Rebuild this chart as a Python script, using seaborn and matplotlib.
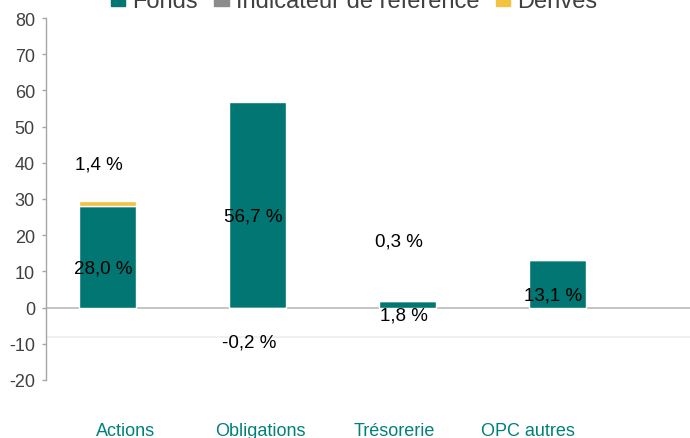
import matplotlib
matplotlib.use('Agg')
import matplotlib.pyplot as plt
from matplotlib.patches import Patch
import seaborn as sns
import pandas as pd

# données
categories = ['Actions', 'Obligations', 'Trésorerie', 'OPC autres']
fonds = [28.0, 56.7, 1.8, 13.1]
derives = [1.4, -0.2, 0.3, 0.0]
derives_affiches = [True, True, True, False]

TEAL = '#017672'
JAUNE = '#F2C241'
GRIS = '#8C8C8C'

sns.set_theme(style='white')
plt.rcParams['font.family'] = ['Liberation Sans', 'DejaVu Sans']
plt.rcParams['axes.unicode_minus'] = False

fig = plt.figure(figsize=(6.9, 4.39), dpi=100)
ax = fig.add_axes([46 / 690, 1 - 381 / 439, 1 - 46 / 690, (381 - 19) / 439])

df = pd.DataFrame({'cat': categories, 'fonds': fonds, 'derives': derives})
sns.barplot(data=df, x='cat', y='fonds', color=TEAL, width=0.38,
            saturation=1, ax=ax, zorder=3)

# dérivés empilés au-dessus du fonds (ou sous zéro si négatif)
bas = [f if d >= 0 else 0 for f, d in zip(fonds, derives)]
ax.bar(range(len(categories)), derives, bottom=bas, width=0.38,
       color=JAUNE, zorder=4)

ax.set_xlim(-0.413, 3.88)
ax.set_ylim(-20, 80)
ax.set_yticks(range(-20, 81, 10))
ax.set_xticks([])
ax.set_xlabel('')
ax.set_ylabel('')
ax.tick_params(axis='y', left=True, direction='out', length=3, width=1,
               color='#A6A6A6', labelsize=13, labelcolor='#404040', pad=5)
for s in ['top', 'right', 'bottom']:
    ax.spines[s].set_visible(False)
ax.spines['left'].set_color('#A6A6A6')
ax.spines['left'].set_linewidth(1)
ax.axhline(0, color='#BFBFBF', lw=1.3, zorder=2)
ax.axhline(-8.1, color='#EEEEEE', lw=1.2, zorder=1)

# étiquettes
for i, (f, d) in enumerate(zip(fonds, derives)):
    ax.text(i - 0.03, f / 2 - 3, f'{f:.1f} %'.replace('.', ','),
            ha='center', va='center', fontsize=13.5, color='black', zorder=5)
pos_derives = [39.7, -9.5, 18.4, 0]
for i, d in enumerate(derives):
    if derives_affiches[i]:
        ax.text(i - 0.06, pos_derives[i], f'{d:.1f} %'.replace('.', ','),
                ha='center', va='center', fontsize=13.5, color='black', zorder=5)

# libellés de catégories (axe secondaire décalé)
ax2 = ax.twiny()
ax2.set_xlim(-0.597, 4.209)
ax2.set_xticks(range(len(categories)))
ax2.set_xticklabels(categories)
ax2.xaxis.set_ticks_position('bottom')
ax2.xaxis.set_label_position('bottom')
ax2.tick_params(axis='x', length=0, labelsize=13, labelcolor='#00807A', pad=30)
for s in ax2.spines.values():
    s.set_visible(False)

handles = [Patch(color=TEAL, label='Fonds'),
           Patch(color=GRIS, label='Indicateur de référence'),
           Patch(color=JAUNE, label='Dérivés')]
fig.legend(handles=handles, loc='center', bbox_to_anchor=(0.513, 1 - 1.5 / 439),
           ncol=3, frameon=False, fontsize=17, handlelength=0.6,
           handleheight=0.6, handletextpad=0.3, columnspacing=0.7,
           labelcolor='#404040')

fig.savefig('out.png', dpi=100, facecolor='white')
plt.close(fig)
